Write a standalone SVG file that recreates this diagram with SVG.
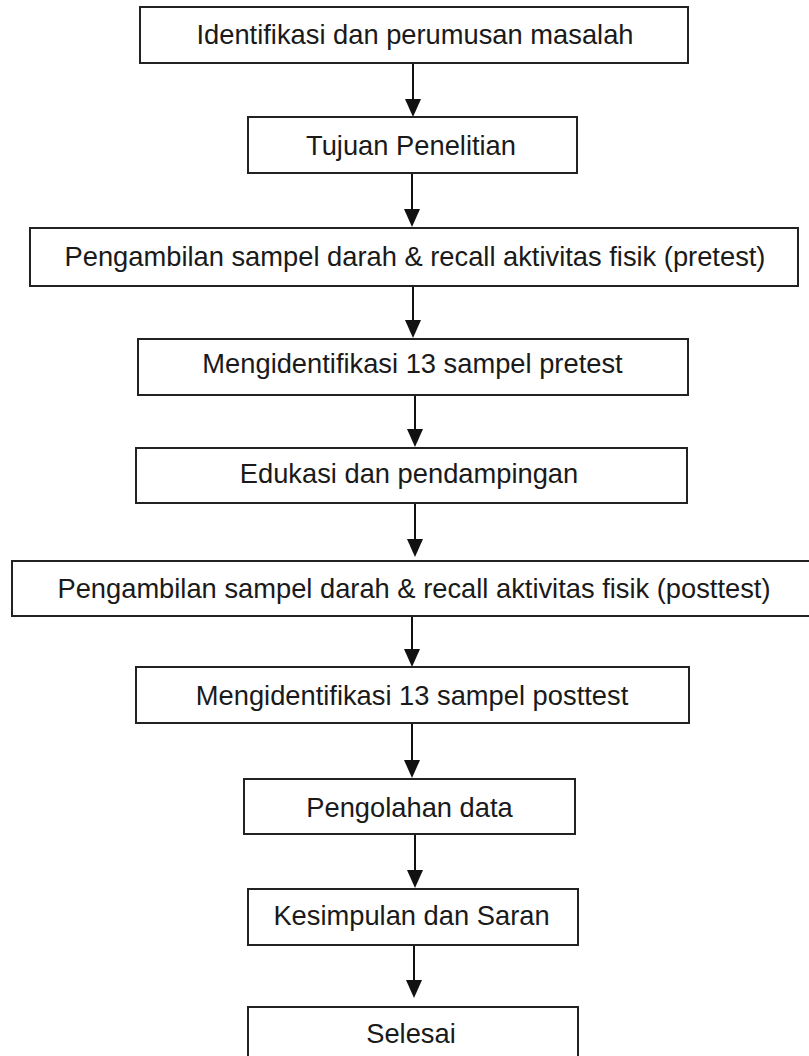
<svg xmlns="http://www.w3.org/2000/svg" width="809" height="1056" viewBox="0 0 809 1056">
<defs>
<style>
.box{fill:#ffffff;stroke:#222;stroke-width:2}
.lbl{font-family:"Liberation Sans",Arial,sans-serif;font-size:27.3px;fill:#1a1a1a;text-anchor:middle}
.edge{stroke:#111;stroke-width:2;fill:none}
.head{fill:#111}
</style>
</defs>
<rect width="809" height="1056" fill="#ffffff"/>
<g id="connectors">
<line class="edge" x1="413" y1="63" x2="413" y2="100"/><polygon class="head" points="405,99 421,99 413,117"/>
<line class="edge" x1="412" y1="173" x2="412" y2="210"/><polygon class="head" points="404,209 420,209 412,227"/>
<line class="edge" x1="413" y1="286" x2="413" y2="321"/><polygon class="head" points="405,320 421,320 413,338"/>
<line class="edge" x1="415" y1="395" x2="415" y2="430"/><polygon class="head" points="407,429 423,429 415,447"/>
<line class="edge" x1="415" y1="503" x2="415" y2="540"/><polygon class="head" points="407,539 423,539 415,557"/>
<line class="edge" x1="412" y1="616" x2="412" y2="650"/><polygon class="head" points="404,649 420,649 412,667"/>
<line class="edge" x1="412" y1="723" x2="412" y2="761"/><polygon class="head" points="404,760 420,760 412,778"/>
<line class="edge" x1="415" y1="834" x2="415" y2="871"/><polygon class="head" points="407,870 423,870 415,888"/>
<line class="edge" x1="414" y1="945" x2="414" y2="981"/><polygon class="head" points="406,980 422,980 414,998"/>
</g>
<g id="n1"><rect class="box" x="140" y="7" width="548" height="56"/><text class="lbl" x="415" y="44">Identifikasi dan perumusan masalah</text></g>
<g id="n2"><rect class="box" x="248" y="117" width="329" height="56"/><text class="lbl" x="411" y="155">Tujuan Penelitian</text></g>
<g id="n3"><rect class="box" x="30" y="228" width="768" height="58"/><text class="lbl" x="415" y="266">Pengambilan sampel darah &amp; recall aktivitas fisik (pretest)</text></g>
<g id="n4"><rect class="box" x="138" y="339" width="550" height="56"/><text class="lbl" x="412.5" y="373">Mengidentifikasi 13 sampel pretest</text></g>
<g id="n5"><rect class="box" x="136" y="448" width="551" height="55"/><text class="lbl" x="409" y="483">Edukasi dan pendampingan</text></g>
<g id="n6"><rect class="box" x="12" y="561" width="806" height="55"/><text class="lbl" x="414" y="598">Pengambilan sampel darah &amp; recall aktivitas fisik (posttest)</text></g>
<g id="n7"><rect class="box" x="136" y="667" width="553" height="56"/><text class="lbl" x="412" y="705">Mengidentifikasi 13 sampel posttest</text></g>
<g id="n8"><rect class="box" x="244" y="779" width="331" height="55"/><text class="lbl" x="409.5" y="817">Pengolahan data</text></g>
<g id="n9"><rect class="box" x="248" y="889" width="330" height="56"/><text class="lbl" x="411.5" y="925">Kesimpulan dan Saran</text></g>
<g id="n10"><rect class="box" x="248" y="1007" width="330" height="60"/><text class="lbl" x="411" y="1043">Selesai</text></g>
</svg>
